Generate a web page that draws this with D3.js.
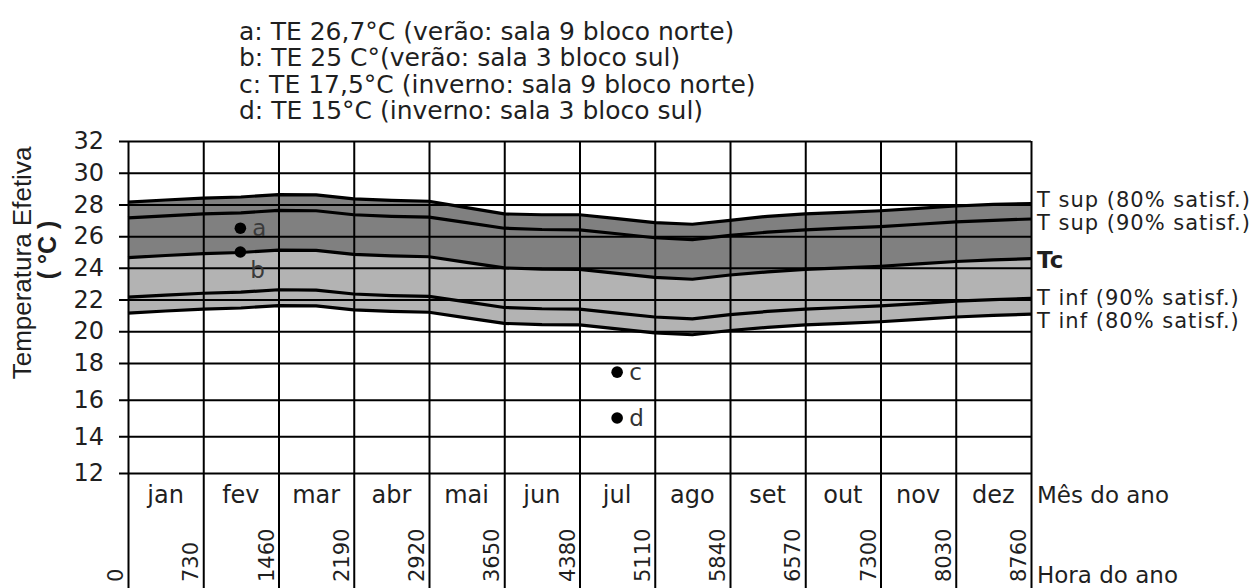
<!DOCTYPE html>
<html><head><meta charset="utf-8">
<script src="https://cdn.jsdelivr.net/npm/d3@7"></script>
<style>
body{margin:0;background:#fff}
svg{display:block}
text{font-family:"DejaVu Sans",Verdana,sans-serif;fill:#1f1f1f}
</style>
</head><body>
<svg id="c" width="1257" height="588"></svg>
<script>
// ---- data ----
const hours   = [0,365,730,1095,1460,1825,2190,2555,2920,3285,3650,4015,4380,4745,5110,5475,5840,6205,6570,6935,7300,7665,8030,8395,8760];
const tSup80  = [28.15,28.28,28.4,28.47,28.62,28.6,28.35,28.25,28.2,27.8,27.4,27.35,27.35,27.1,26.85,26.75,27.0,27.25,27.4,27.5,27.6,27.75,27.9,28.0,28.05];
const tSup90  = [27.15,27.28,27.4,27.47,27.62,27.6,27.35,27.25,27.2,26.85,26.5,26.42,26.4,26.15,25.9,25.78,26.05,26.25,26.4,26.5,26.6,26.75,26.9,27.0,27.08];
const tc      = [24.65,24.78,24.9,24.97,25.12,25.1,24.85,24.75,24.7,24.35,24.0,23.92,23.9,23.65,23.4,23.28,23.55,23.75,23.9,24.0,24.1,24.25,24.4,24.5,24.58];
const tInf90  = [22.15,22.28,22.4,22.47,22.62,22.6,22.35,22.25,22.2,21.85,21.5,21.42,21.4,21.15,20.9,20.78,21.05,21.25,21.4,21.5,21.6,21.75,21.9,22.0,22.08];
const tInf80  = [21.15,21.28,21.4,21.47,21.62,21.6,21.35,21.25,21.2,20.85,20.5,20.42,20.4,20.15,19.9,19.78,20.05,20.25,20.4,20.5,20.6,20.75,20.9,21.0,21.08];

const pointNames = ["a","b","c","d"];
const pointHours = [1090,1090,4745,4745];
const pointTemps = [26.5,25.0,17.5,15.0];

const months    = ["jan","fev","mar","abr","mai","jun","jul","ago","set","out","nov","dez"];
const hourTicks = [0,730,1460,2190,2920,3650,4380,5110,5840,6570,7300,8030,8760];
const tempTicks = [12,14,16,18,20,22,24,26,28,30,32];

const legendLines = [
  "a: TE 26,7°C (verão: sala 9 bloco norte)",
  "b: TE 25 C°(verão: sala 3 bloco sul)",
  "c: TE 17,5°C (inverno: sala 9 bloco norte)",
  "d: TE 15°C (inverno: sala 3 bloco sul)"
];
const seriesLabels = ["T sup (80% satisf.)","T sup (90% satisf.)","Tc","T inf (90% satisf.)","T inf (80% satisf.)"];

// ---- layout ----
const svg = d3.select("#c");
const x = d3.scaleLinear().domain([0,8760]).range([128,1031]);
const y = d3.scaleLinear().domain([12,18,32]).range([473,363,141]);
const darkFill = "#808080", lightFill = "#b3b3b3";

// bands
const area = (top, bot) => d3.area()
  .x((d,i)=>x(hours[i]))
  .y0((d,i)=>y(bot[i]))
  .y1((d,i)=>y(top[i]));
svg.append("path").datum(hours).attr("d", area(tSup80, tc)).attr("fill", darkFill);
svg.append("path").datum(hours).attr("d", area(tc, tInf80)).attr("fill", lightFill);

// horizontal grid + y labels
const yAxis = svg.append("g").attr("transform","translate(119,0)")
  .call(d3.axisLeft(y).tickValues(tempTicks).tickSize(-912).tickPadding(15).tickFormat(d3.format("d")));
yAxis.select(".domain").remove();
yAxis.selectAll("line").attr("stroke","#000").attr("stroke-width",2);
yAxis.selectAll("text").attr("font-size",24).attr("font-family","DejaVu Sans, Verdana, sans-serif").attr("fill","#1f1f1f");

// vertical grid (months)
const xAxis = svg.append("g").attr("transform","translate(0,141)")
  .call(d3.axisBottom(x).tickValues(hourTicks).tickSize(447).tickFormat(""));
xAxis.select(".domain").remove();
xAxis.selectAll("line").attr("stroke","#000").attr("stroke-width",2);

// series lines
const line = arr => d3.line().x((d,i)=>x(hours[i])).y((d,i)=>y(arr[i]));
[tSup80,tSup90,tc,tInf90,tInf80].forEach(arr=>{
  svg.append("path").datum(hours).attr("d", line(arr))
    .attr("fill","none").attr("stroke","#000").attr("stroke-width",3.2).attr("stroke-linejoin","round");
});

// points
pointNames.forEach((n,i)=>{
  const px = x(pointHours[i]), py = y(pointTemps[i]);
  svg.append("circle").attr("cx",px).attr("cy",py).attr("r",5.8).attr("fill","#000");
  const lx = n==="b" ? px+10 : px+12;
  const ly = n==="b" ? py+26 : py+8;
  svg.append("text").attr("x",lx).attr("y",ly).attr("font-size",23)
    .style("fill", i<2 ? "#3a3a3a" : "#333").text(n);
});

// month labels
months.forEach((m,i)=>{
  svg.append("text").attr("x",(x(hourTicks[i])+x(hourTicks[i+1]))/2).attr("y",503)
    .attr("text-anchor","middle").attr("font-size",24).text(m);
});

// hour labels (rotated)
hourTicks.forEach(h=>{
  const tx = x(h)-5, ty = 582;
  svg.append("text").attr("x",tx).attr("y",ty).attr("font-size",21)
    .attr("transform",`rotate(-90,${tx},${ty})`).text(h);
});

svg.append("text").attr("x",1037).attr("y",503).attr("font-size",23).text("Mês do ano");
svg.append("text").attr("x",1037).attr("y",583).attr("font-size",23).text("Hora do ano");

// series labels on the right
const labY = [207,230,268,305,328];
seriesLabels.forEach((s,i)=>{
  const isTc = s==="Tc";
  svg.append("text").attr("x",1037).attr("y",labY[i]).attr("font-size", isTc ? 23 : 21)
    .attr("letter-spacing", isTc ? 0 : 1)
    .attr("font-weight", isTc ? "bold" : "normal").text(s);
});

// legend
legendLines.forEach((s,i)=>{
  svg.append("text").attr("x",239).attr("y",40+i*26.4).attr("font-size",25).text(s);
});

// y title
svg.append("text").attr("transform","translate(31,263) rotate(-90)")
  .attr("text-anchor","middle").attr("font-size",26)
  .style("font-family","'Liberation Sans',Arial,sans-serif").text("Temperatura Efetiva");
svg.append("text").attr("transform","translate(56,250) rotate(-90)")
  .attr("text-anchor","middle").attr("font-size",25).attr("font-weight","bold")
  .style("font-family","'Liberation Sans',Arial,sans-serif").text("( °C )");
</script>
</body></html>
